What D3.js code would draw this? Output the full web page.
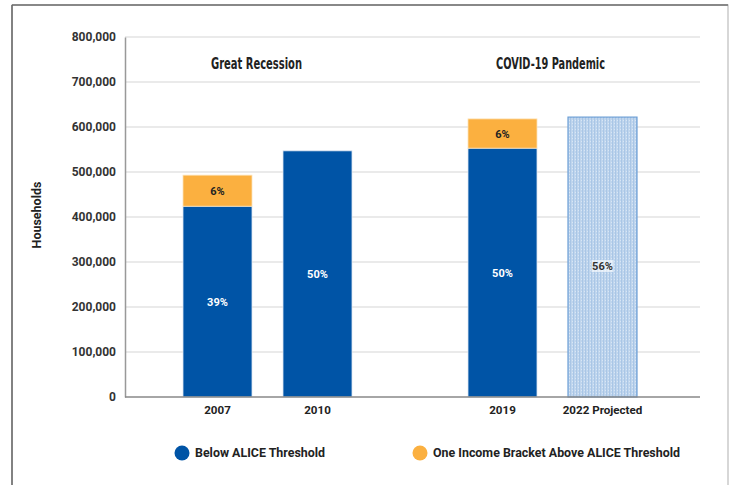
<!DOCTYPE html>
<html>
<head>
<meta charset="utf-8">
<title>ALICE households</title>
<script src="https://cdn.jsdelivr.net/npm/d3@7"></script>
<style>
    body { margin: 0; background: white; }
    svg { display: block; }
    text { font-family: Roboto, "Liberation Sans", sans-serif; }
    .grid line { stroke: #e3e3e3; stroke-width: 1.5; }
    .tick text { font-weight: bold; fill: #333; font-size: 12px; }
    .cond { font-family: "Liberation Sans Narrow", "DejaVu Sans Condensed", sans-serif; font-weight: bold; }
</style>
</head>
<body>
<svg id="main" width="729" height="485"></svg>
<script>
// data
let groups = ['Great Recession', 'COVID-19 Pandemic'];
let years = [['2007', '2010'], ['2019', '2022 Projected']];
let below = [424000, 547000, 553000, 0];
let above = [69000, 0, 65000, 0];
let projected = [0, 0, 0, 622000];
let belowPct = ['39%', '50%', '50%', ''];
let abovePct = ['6%', '', '6%', ''];
let projPct = ['', '', '', '56%'];
let yTicks = [0, 100000, 200000, 300000, 400000, 500000, 600000, 700000, 800000];
let legendItems = ['Below ALICE Threshold', 'One Income Bracket Above ALICE Threshold'];

let blue = '#0054a6', orange = '#fbb040';

let svg = d3.select('svg#main');

// frame
svg.append('rect').attr('x', 12).attr('y', 5).attr('width', 716).attr('height', 490)
    .attr('fill', 'none').attr('stroke', '#bdbdbd').attr('stroke-width', 1.2);
svg.append('line').attr('x1', 12).attr('x2', 728).attr('y1', 5).attr('y2', 5)
    .attr('stroke', '#888').attr('stroke-width', 2);
svg.append('line').attr('x1', 12).attr('x2', 12).attr('y1', 5).attr('y2', 485)
    .attr('stroke', '#666').attr('stroke-width', 1.5);

// pattern for projected bar
let defs = svg.append('defs');
let pat = defs.append('pattern').attr('id', 'dots')
    .attr('patternUnits', 'userSpaceOnUse').attr('width', 3).attr('height', 3);
pat.append('rect').attr('width', 3).attr('height', 3).attr('fill', '#bfd5ed');
pat.append('rect').attr('width', 1).attr('height', 3).attr('fill', '#a9c6e6');
pat.append('rect').attr('width', 1).attr('height', 1).attr('x', 2).attr('fill', '#d8e6f5');

let left = 125, right = 700;
let y = d3.scaleLinear().domain([0, 800000]).range([397, 37]);
let gx = d3.scaleBand().domain(groups).range([left, 695]);
let bx = d3.scaleBand().domain([0, 1]).range([0, gx.bandwidth()])
    .paddingInner(0.31).paddingOuter(0.58);
let titleShift = [-11, -2];

let rows = [];
groups.forEach((g, gi) => years[gi].forEach((yr, j) => {
    let i = gi * 2 + j;
    rows.push({ group: g, year: yr, j: j, below: below[i], above: above[i],
        projected: projected[i], bp: belowPct[i], ap: abovePct[i], pp: projPct[i],
        x: gx(g) + bx(j) });
}));

// gridlines
svg.append('g').attr('class', 'grid')
    .selectAll('line').data(yTicks.slice(1)).join('line')
    .attr('x1', left).attr('x2', right)
    .attr('y1', d => y(d)).attr('y2', d => y(d));

// y axis
let yAxis = svg.append('g').attr('transform', 'translate(' + left + ',0)')
    .call(d3.axisLeft(y).tickValues(yTicks).tickFormat(d3.format(',')).tickSize(0).tickPadding(9));
yAxis.select('.domain').attr('stroke', '#999').attr('stroke-width', 1.5);

svg.append('text').attr('transform', 'translate(41,215) rotate(-90)')
    .attr('text-anchor', 'middle').attr('font-size', 12.5).attr('font-weight', 'bold')
    .attr('fill', '#222').text('Households');

// bars
let bw = bx.bandwidth();
let bars = svg.append('g');
bars.selectAll('.below').data(rows.filter(d => d.below > 0)).join('rect')
    .attr('x', d => d.x).attr('width', bw)
    .attr('y', d => y(d.below)).attr('height', d => y(0) - y(d.below))
    .attr('fill', blue).attr('stroke', '#dce6f2').attr('stroke-width', 0.8);
bars.selectAll('.above').data(rows.filter(d => d.above > 0)).join('rect')
    .attr('x', d => d.x).attr('width', bw)
    .attr('y', d => y(d.below + d.above)).attr('height', d => y(d.below) - y(d.below + d.above))
    .attr('fill', orange).attr('stroke', '#fde3b8').attr('stroke-width', 0.8);
bars.selectAll('.proj').data(rows.filter(d => d.projected > 0)).join('rect')
    .attr('x', d => d.x).attr('width', bw)
    .attr('y', d => y(d.projected)).attr('height', d => y(0) - y(d.projected))
    .attr('fill', 'url(#dots)').attr('stroke', '#6d9fd6').attr('stroke-width', 1.2);

// x axis line
svg.append('line').attr('x1', left).attr('x2', right).attr('y1', y(0)).attr('y2', y(0))
    .attr('stroke', '#888').attr('stroke-width', 1.5);

// value labels
let lab = svg.append('g').attr('class', 'cond').attr('font-size', 11).attr('text-anchor', 'middle');
lab.selectAll('.bl').data(rows.filter(d => d.bp)).join('text')
    .attr('x', d => d.x + bw / 2).attr('y', d => (y(d.below) + y(0)) / 2 + 4)
    .attr('fill', 'white').text(d => d.bp);
lab.selectAll('.al').data(rows.filter(d => d.ap)).join('text')
    .attr('x', d => d.x + bw / 2).attr('y', d => (y(d.below + d.above) + y(d.below)) / 2 + 4)
    .attr('fill', '#222').text(d => d.ap);
let pl = lab.selectAll('.pl').data(rows.filter(d => d.pp)).join('g');
pl.append('rect').attr('x', d => d.x + bw / 2 - 11).attr('y', 260).attr('width', 22).attr('height', 12)
    .attr('fill', 'white').attr('opacity', 0.6);
pl.append('text').attr('x', d => d.x + bw / 2).attr('y', 270)
    .attr('fill', '#333').text(d => d.pp);

// category labels
svg.append('g').selectAll('text').data(rows).join('text')
    .attr('x', d => d.x + bw / 2).attr('y', 414).attr('text-anchor', 'middle')
    .attr('font-size', 11.6).attr('font-weight', 'bold').attr('fill', '#222')
    .text(d => d.year);

// group titles
svg.append('g').selectAll('text').data(groups).join('text')
    .attr('class', 'cond')
    .attr('x', (d, i) => gx(d) + gx.bandwidth() / 2 + titleShift[i]).attr('y', 69)
    .attr('text-anchor', 'middle').attr('font-size', 16).attr('fill', '#222')
    .attr('textLength', (d, i) => i === 0 ? 91 : 109).attr('lengthAdjust', 'spacingAndGlyphs')
    .text(d => d);

// legend
let lg = svg.append('g').selectAll('g').data(legendItems).join('g')
    .attr('transform', (d, i) => 'translate(' + (i === 0 ? 182 : 420) + ',453)');
lg.append('circle').attr('r', 7.5).attr('fill', (d, i) => i === 0 ? blue : orange);
lg.append('text').attr('x', 13).attr('y', 4).attr('font-size', 12).attr('font-weight', 'bold')
    .attr('fill', '#222')
    .attr('textLength', (d, i) => i === 0 ? 130 : 247).attr('lengthAdjust', 'spacingAndGlyphs')
    .text(d => d);
</script>
</body>
</html>
